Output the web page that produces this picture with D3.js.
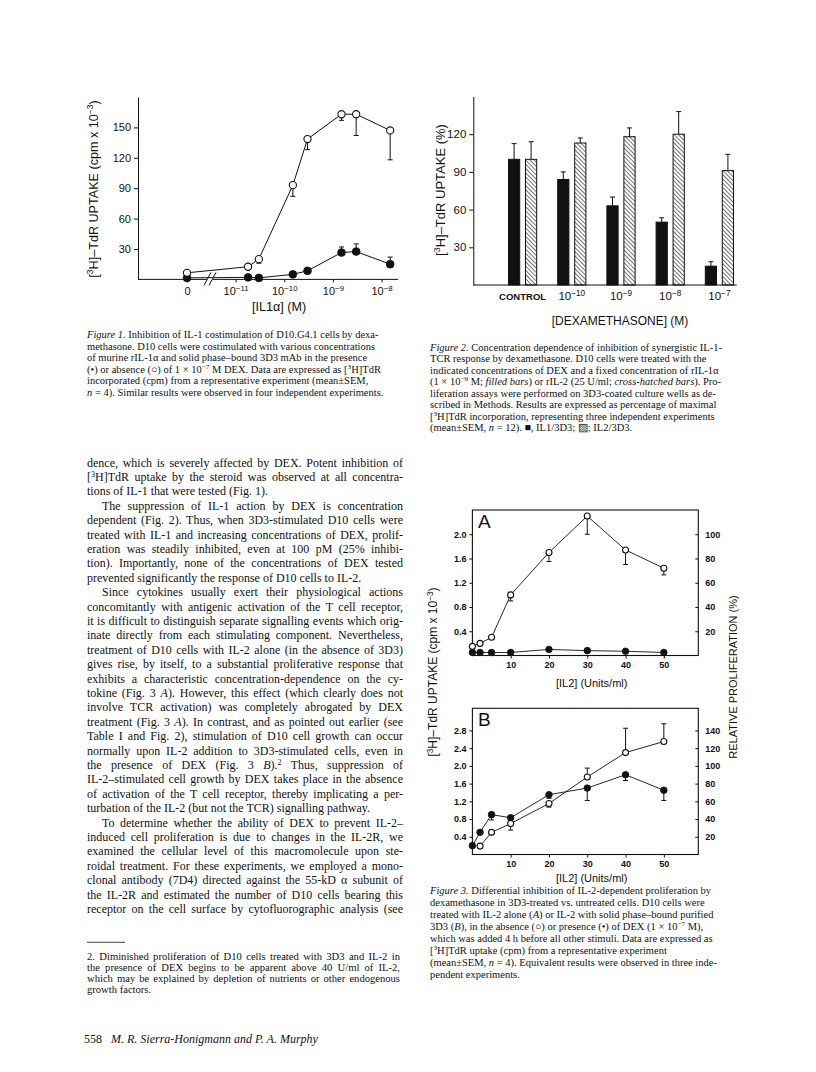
<!DOCTYPE html>
<html>
<head>
<meta charset="utf-8">
<script src="https://cdn.jsdelivr.net/npm/d3@7"></script>
<style>
  body { margin: 0; background: #fff; }
  svg { display: block; }
  .serif { font-family: "Liberation Serif", "Times New Roman", serif; fill: #111; }
  .sans { font-family: "Liberation Sans", Arial, sans-serif; fill: #111; }
</style>
</head>
<body>
<svg id="page" width="816" height="1072"></svg>
<script>
// ---------- Figure 1: [IL1a] dose response, with / without DEX
const fig1Conc = [0, 1.8e-11, 3e-11, 1.5e-10, 3e-10, 1.5e-9, 3e-9, 1.5e-8];
const fig1Open = [6.5, 12.5, 20, 93, 138.5, 163, 163, 147];
const fig1OpenLo = [null, null, 16, 82, 128, 157, 142, 118];
const fig1Filled = [1.5, 2, 1.5, 5, 8.5, 26.5, 27.5, 15];
const fig1FilledHi = [null, null, null, null, null, 32, 35, 22];
const fig1YTicks = [30, 60, 90, 120, 150];
const fig1XTicks = [1e-12, 1e-11, 1e-10, 1e-9, 1e-8];
const fig1XLabels = [['0', ''], ['10', '-11'], ['10', '-10'], ['10', '-9'], ['10', '-8']];

// ---------- Figure 2: bars, % of max uptake
const dexCats = ['CONTROL', '1e-10', '1e-9', '1e-8', '1e-7'];
const dexLabels = [['CONTROL', ''], ['10', '-10'], ['10', '-9'], ['10', '-8'], ['10', '-7']];
const il1Bars = [100, 84, 63, 50, 15];
const il1Err = [112.5, 90, 70, 53.5, 18.5];
const il2Bars = [100, 113, 118, 120, 91];
const il2Err = [114, 117, 125, 138, 104];
const fig2YTicks = [30, 60, 90, 120];

// ---------- Figure 3: IL-2 dose response, panels A and B
const il2Units = [0, 2, 5, 10, 20, 30, 40, 50];
const aOpen = [0.15, 0.2, 0.3, 1.0, 1.7, 2.3, 1.74, 1.44];
const aOpenLo = [null, null, null, 0.9, 1.55, 2.0, 1.5, 1.33];
const aFilled = [0.05, 0.05, 0.05, 0.05, 0.1, 0.08, 0.07, 0.05];
const bOpen = [null, 0.19, 0.5, 0.7, 1.15, 1.75, 2.3, 2.55];
const bOpenLo = [null, null, null, 0.55, 1.07, null, null, null];
const bOpenHi = [null, null, null, 0.82, null, 1.95, 2.85, 2.95];
const bFilled = [0.2, 0.5, 0.9, 0.83, 1.35, 1.5, 1.8, 1.45];
const bFilledLo = [null, null, 0.78, null, 1.27, 1.22, 1.67, 1.22];
const fig3XTicks = [10, 20, 30, 40, 50];
const aLeftTicks = [0.4, 0.8, 1.2, 1.6, 2.0];
const aRightTicks = [20, 40, 60, 80, 100];
const bLeftTicks = [0.4, 0.8, 1.2, 1.6, 2.0, 2.4, 2.8];
const bRightTicks = [20, 40, 60, 80, 100, 120, 140];

// ---------- page text
const fig1Caption = [
  "*Figure 1.* Inhibition of IL-1 costimulation of D10.G4.1 cells by dexa-",
  "methasone. D10 cells were costimulated with various concentrations",
  "of murine rIL-1α and solid phase–bound 3D3 mAb in the presence",
  "(•) or absence (○) of 1 × 10^−7^ M DEX. Data are expressed as [^3^H]TdR",
  "incorporated (cpm) from a representative experiment (mean±SEM,",
  "*n* = 4). Similar results were observed in four independent experiments."
];
const fig2Caption = [
  "*Figure 2.* Concentration dependence of inhibition of synergistic IL-1-",
  "TCR response by dexamethasone. D10 cells were treated with the",
  "indicated concentrations of DEX and a fixed concentration of rIL-1α",
  "(1 × 10^−9^ M; *filled bars*) or rIL-2 (25 U/ml; *cross-hatched bars*). Pro-",
  "liferation assays were performed on 3D3-coated culture wells as de-",
  "scribed in Methods. Results are expressed as percentage of maximal",
  "[^3^H]TdR incorporation, representing three independent experiments",
  "(mean±SEM, *n* = 12). ■, IL1/3D3; ▨; IL2/3D3."
];
const fig3Caption = [
  "*Figure 3.* Differential inhibition of IL-2-dependent proliferation by",
  "dexamethasone in 3D3-treated vs. untreated cells. D10 cells were",
  "treated with IL-2 alone (*A*) or IL-2 with solid phase–bound purified",
  "3D3 (*B*), in the absence (○) or presence (•) of DEX (1 × 10^−7^ M),",
  "which was added 4 h before all other stimuli. Data are expressed as",
  "[^3^H]TdR uptake (cpm) from a representative experiment",
  "(mean±SEM, *n* = 4). Equivalent results were observed in three inde-",
  "pendent experiments."
];
// ">" = indented first line, "|" = last line of a paragraph
const bodyLines = [
  "dence, which is severely affected by DEX. Potent inhibition of",
  "[^3^H]TdR uptake by the steroid was observed at all concentra-",
  "tions of IL-1 that were tested (Fig. 1).|",
  ">The suppression of IL-1 action by DEX is concentration",
  "dependent (Fig. 2). Thus, when 3D3-stimulated D10 cells were",
  "treated with IL-1 and increasing concentrations of DEX, prolif-",
  "eration was steadily inhibited, even at 100 pM (25% inhibi-",
  "tion). Importantly, none of the concentrations of DEX tested",
  "prevented significantly the response of D10 cells to IL-2.|",
  ">Since cytokines usually exert their physiological actions",
  "concomitantly with antigenic activation of the T cell receptor,",
  "it is difficult to distinguish separate signalling events which orig-",
  "inate directly from each stimulating component. Nevertheless,",
  "treatment of D10 cells with IL-2 alone (in the absence of 3D3)",
  "gives rise, by itself, to a substantial proliferative response that",
  "exhibits a characteristic concentration-dependence on the cy-",
  "tokine (Fig. 3 *A*). However, this effect (which clearly does not",
  "involve TCR activation) was completely abrogated by DEX",
  "treatment (Fig. 3 *A*). In contrast, and as pointed out earlier (see",
  "Table I and Fig. 2), stimulation of D10 cell growth can occur",
  "normally upon IL-2 addition to 3D3-stimulated cells, even in",
  "the presence of DEX (Fig. 3 *B*).^2^ Thus, suppression of",
  "IL-2–stimulated cell growth by DEX takes place in the absence",
  "of activation of the T cell receptor, thereby implicating a per-",
  "turbation of the IL-2 (but not the TCR) signalling pathway.|",
  ">To determine whether the ability of DEX to prevent IL-2–",
  "induced cell proliferation is due to changes in the IL-2R, we",
  "examined the cellular level of this macromolecule upon ste-",
  "roidal treatment. For these experiments, we employed a mono-",
  "clonal antibody (7D4) directed against the 55-kD α subunit of",
  "the IL-2R and estimated the number of D10 cells bearing this",
  "receptor on the cell surface by cytofluorographic analysis (see"
];
const footLines = [
  "2. Diminished proliferation of D10 cells treated with 3D3 and IL-2 in",
  "the presence of DEX begins to be apparent above 40 U/ml of IL-2,",
  "which may be explained by depletion of nutrients or other endogenous",
  "growth factors.|"
];

const svg = d3.select('#page');
svg.append('rect').attr('width', 816).attr('height', 1072).attr('fill', '#fff');

const defs = svg.append('defs');
defs.append('pattern')
  .attr('id', 'hatch')
  .attr('patternUnits', 'userSpaceOnUse')
  .attr('width', 3).attr('height', 3)
  .attr('patternTransform', 'rotate(-45)')
  .append('line')
  .attr('x1', 0).attr('y1', 0).attr('x2', 0).attr('y2', 3)
  .attr('stroke', '#111').attr('stroke-width', 1.2);

// text with *italic* and ^superscript^ runs
function rich(parent, str, x, y, size, cls) {
  const t = parent.append('text')
    .attr('x', x).attr('y', y)
    .attr('class', cls || 'serif')
    .style('font-size', size + 'px');
  str.split(/(\*[^*]*\*|\^[^^]*\^)/).filter(s => s.length).forEach(p => {
    if (p[0] === '*') t.append('tspan').style('font-style', 'italic').text(p.slice(1, -1));
    else if (p[0] === '^') t.append('tspan').attr('baseline-shift', 'super').style('font-size', (size * 0.68) + 'px').text(p.slice(1, -1));
    else t.append('tspan').text(p);
  });
  return t;
}

function justify(t, str, width) {
  const natural = t.node().getComputedTextLength();
  const spaces = (str.match(/ /g) || []).length;
  if (natural > width) t.attr('textLength', width).attr('lengthAdjust', 'spacingAndGlyphs');
  else if (spaces) t.style('word-spacing', ((width - natural) / spaces) + 'px');
}

function block(lines, x0, width, y0, step, size, doJustify) {
  const g = svg.append('g');
  lines.forEach((raw, i) => {
    let s = raw, indent = 0, last = false;
    if (s[0] === '>') { s = s.slice(1); indent = 15; }
    if (s[s.length - 1] === '|') { s = s.slice(0, -1); last = true; }
    const t = rich(g, s, x0 + indent, y0 + i * step, size);
    const plain = s.replace(/[*^]/g, '');
    if (doJustify && !last) justify(t, plain, width - indent);
    else if (t.node().getComputedTextLength() > width - indent) t.attr('textLength', width - indent).attr('lengthAdjust', 'spacingAndGlyphs');
  });
}

// tick label "10" with exponent
function expLabel(sel, base, exp, size, weight) {
  sel.text(null);
  sel.append('tspan').style('font-size', size + 'px').style('font-weight', weight || 'normal').text(base);
  if (exp) sel.append('tspan').attr('baseline-shift', 'super').style('font-size', (size * 0.72) + 'px').text(exp.replace('-', '−'));
}

function styleAxis(g, size, weight) {
  g.selectAll('path, line').attr('stroke', '#111').attr('stroke-width', 1);
  g.selectAll('text').attr('class', 'sans').attr('fill', '#111')
    .style('font-family', '"Liberation Sans", Arial, sans-serif')
    .style('font-size', size + 'px').style('font-weight', weight || 'normal');
}

function errBars(g, data, x, y, key) {
  g.selectAll(null).data(data.filter(d => d[key] != null)).join('path')
    .attr('d', d => `M${x(d)},${y(d.v)}V${y(d[key])}M${x(d) - 2.5},${y(d[key])}H${x(d) + 2.5}`)
    .attr('stroke', '#111').attr('stroke-width', 1).attr('fill', 'none');
}

function markers(g, data, x, y, open, r) {
  g.selectAll(null).data(data.filter(d => d.v != null)).join('circle')
    .attr('cx', d => x(d)).attr('cy', d => y(d.v)).attr('r', r)
    .attr('fill', open ? '#fff' : '#111')
    .attr('stroke', '#111').attr('stroke-width', open ? 1.1 : 0.8);
}

// ===================== Figure 1 =====================
(function () {
  const g = svg.append('g');
  const x = d3.scaleLog().domain([1e-12, 1e-8]).range([187, 381.6]);
  const y = d3.scaleLinear().domain([0, 180]).range([279.4, 97]);
  const px = d => x(d.c === 0 ? 1e-12 : d.c);

  g.append('g').attr('transform', 'translate(138,0)')
    .call(d3.axisLeft(y).tickValues(fig1YTicks).tickSize(4).tickSizeOuter(0).tickPadding(3))
    .call(a => styleAxis(a, 11));

  g.append('line').attr('x1', 138).attr('x2', 398).attr('y1', y(0)).attr('y2', y(0))
    .attr('stroke', '#111').attr('stroke-width', 1);
  const xa = g.append('g').attr('transform', `translate(0,${y(0)})`)
    .call(d3.axisBottom(x).tickValues(fig1XTicks).tickSize(3).tickPadding(5));
  xa.select('.domain').remove();
  styleAxis(xa, 11);
  xa.selectAll('.tick text').each(function (d, i) {
    expLabel(d3.select(this), fig1XLabels[i][0], fig1XLabels[i][1], 11);
  });

  // axis break
  const bx = 210, by = y(0);
  g.append('rect').attr('x', bx - 3).attr('y', by - 1.5).attr('width', 6).attr('height', 3).attr('fill', '#fff');
  [-2.5, 2.5].forEach(o => g.append('line')
    .attr('x1', bx + o - 3.5).attr('y1', by + 6).attr('x2', bx + o + 3.5).attr('y2', by - 7)
    .attr('stroke', '#111').attr('stroke-width', 1));

  const open = fig1Conc.map((c, i) => ({ c, v: fig1Open[i], lo: fig1OpenLo[i] }));
  const filled = fig1Conc.map((c, i) => ({ c, v: fig1Filled[i], hi: fig1FilledHi[i] }));
  const line = d3.line().x(px).y(d => y(d.v));
  [open, filled].forEach(s => g.append('path').attr('d', line(s))
    .attr('fill', 'none').attr('stroke', '#111').attr('stroke-width', 1));
  errBars(g, open, px, y, 'lo');
  errBars(g, filled, px, y, 'hi');
  markers(g, filled, px, y, false, 3.9);
  markers(g, open, px, y, true, 3.6);

  rich(g, "[^3^H]–TdR UPTAKE (cpm x 10^−3^)", 0, 0, 12.6, 'sans')
    .attr('text-anchor', 'middle').attr('transform', 'translate(97.5,189) rotate(-90)');
  rich(g, "[IL1α] (M)", 279, 310.5, 12.6, 'sans').attr('text-anchor', 'middle');
})();

// ===================== Figure 2 =====================
(function () {
  const g = svg.append('g');
  const x = d3.scaleBand().domain(dexCats).range([498, 744]);
  const sub = d3.scaleBand().domain(['il1', 'il2']).range([10.5, 38.7]).paddingInner(0.34);
  const y = d3.scaleLinear().domain([0, 150]).range([285, 96.5]);

  g.append('g').attr('transform', 'translate(473.3,0)')
    .call(d3.axisLeft(y).tickValues(fig2YTicks).tickSize(4).tickSizeOuter(0).tickPadding(3))
    .call(a => styleAxis(a, 11.5));
  g.append('line').attr('x1', 473.3).attr('x2', 736.7).attr('y1', y(0)).attr('y2', y(0))
    .attr('stroke', '#111').attr('stroke-width', 1);

  const bars = dexCats.flatMap((c, i) => [
    { c, k: 'il1', v: il1Bars[i], e: il1Err[i] },
    { c, k: 'il2', v: il2Bars[i], e: il2Err[i] }
  ]);
  const bx = d => x(d.c) + sub(d.k);
  g.selectAll(null).data(bars).join('path')
    .attr('d', d => {
      const cx = bx(d) + sub.bandwidth() / 2;
      return `M${cx},${y(d.v)}V${y(d.e)}M${cx - 2.5},${y(d.e)}H${cx + 2.5}`;
    })
    .attr('stroke', '#111').attr('stroke-width', 1);
  g.selectAll(null).data(bars).join('rect')
    .attr('x', bx).attr('width', sub.bandwidth())
    .attr('y', d => y(d.v)).attr('height', d => y(0) - y(d.v))
    .attr('fill', d => d.k === 'il1' ? '#111' : 'url(#hatch)')
    .attr('stroke', '#111').attr('stroke-width', 1);

  dexCats.forEach((c, i) => {
    const t = g.append('text').attr('class', 'sans')
      .attr('x', x(c) + x.bandwidth() / 2).attr('y', 300).attr('text-anchor', 'middle');
    if (i === 0) t.style('font-size', '9.5px').style('font-weight', 'bold').text(dexLabels[i][0]);
    else expLabel(t, dexLabels[i][0], dexLabels[i][1], 11.5);
  });

  rich(g, "[^3^H]–TdR UPTAKE (%)", 0, 0, 13, 'sans')
    .attr('text-anchor', 'middle').attr('transform', 'translate(445,190) rotate(-90)');
  rich(g, "[DEXAMETHASONE] (M)", 620, 325, 12, 'sans').attr('text-anchor', 'middle');
})();

// ===================== Figure 3 =====================
function panel(cfg) {
  const g = svg.append('g');
  const x = d3.scaleLinear().domain([0, 59]).range([472.4, 698.3]);
  const y = d3.scaleLinear().domain([0, cfg.yMax]).range([cfg.bottom, cfg.top]);
  const r = d3.scaleLinear().domain([0, cfg.yMax * 50]).range([cfg.bottom, cfg.top]);
  const px = d => x(d.u);

  g.append('rect').attr('x', x(0)).attr('y', cfg.top)
    .attr('width', x(59) - x(0)).attr('height', cfg.bottom - cfg.top)
    .attr('fill', 'none').attr('stroke', '#111').attr('stroke-width', 1.1);

  const la = g.append('g').attr('transform', `translate(${x(0)},0)`)
    .call(d3.axisLeft(y).tickValues(cfg.leftTicks).tickFormat(d3.format('.1f')).tickSize(3).tickSizeOuter(0).tickPadding(3));
  const ra = g.append('g').attr('transform', `translate(${x(59)},0)`)
    .call(d3.axisRight(r).tickValues(cfg.rightTicks).tickSize(-3).tickSizeOuter(0).tickPadding(7));
  const ba = g.append('g').attr('transform', `translate(0,${cfg.bottom})`)
    .call(d3.axisBottom(x).tickValues(fig3XTicks).tickSize(3).tickSizeOuter(0).tickPadding(3));
  [la, ra, ba].forEach(a => { a.select('.domain').remove(); styleAxis(a, 9, 'bold'); });

  const open = il2Units.map((u, i) => ({ u, v: cfg.open[i], lo: cfg.openLo[i], hi: cfg.openHi[i] }));
  const filled = il2Units.map((u, i) => ({ u, v: cfg.filled[i], lo: cfg.filledLo[i] }));
  const line = d3.line().defined(d => d.v != null).x(px).y(d => y(d.v));
  [open, filled].forEach(s => g.append('path').attr('d', line(s))
    .attr('fill', 'none').attr('stroke', '#111').attr('stroke-width', 0.9));
  errBars(g, open, px, y, 'lo');
  errBars(g, open, px, y, 'hi');
  errBars(g, filled, px, y, 'lo');
  markers(g, filled, px, y, false, 3.3);
  markers(g, open, px, y, true, 3);

  g.append('text').attr('class', 'sans').attr('x', 478).attr('y', cfg.top + cfg.letterDy)
    .style('font-size', '19px').text(cfg.letter);
  rich(g, "[IL2] (Units/ml)", 591.7, cfg.bottom + cfg.titleDy, 11, 'sans').attr('text-anchor', 'middle');
}

panel({
  letter: 'A', letterDy: 17.5, titleDy: 31, top: 510, bottom: 655.5, yMax: 2.4,
  leftTicks: aLeftTicks, rightTicks: aRightTicks,
  open: aOpen, openLo: aOpenLo, openHi: il2Units.map(() => null),
  filled: aFilled, filledLo: il2Units.map(() => null)
});
panel({
  letter: 'B', letterDy: 18, titleDy: 27.5, top: 708.3, bottom: 854.5, yMax: 3.3,
  leftTicks: bLeftTicks, rightTicks: bRightTicks,
  open: bOpen, openLo: bOpenLo, openHi: bOpenHi,
  filled: bFilled, filledLo: bFilledLo
});

rich(svg, "[^3^H]–TdR UPTAKE (cpm x 10^−3^)", 0, 0, 12, 'sans')
  .attr('text-anchor', 'middle').attr('transform', 'translate(437,672) rotate(-90)');
svg.append('text').attr('class', 'sans').attr('text-anchor', 'middle')
  .attr('transform', 'translate(737,677) rotate(-90)')
  .style('font-size', '11px').text('RELATIVE PROLIFERATION (%)');

// ===================== text blocks =====================
block(fig1Caption, 87, 316, 338, 11.5, 10.5, false);
block(fig2Caption, 430, 338, 350.5, 11.5, 10.5, false);
block(fig3Caption, 430, 338, 894, 12, 10.5, false);
block(bodyLines, 87, 316, 466.5, 14.4, 12, true);

svg.append('line').attr('x1', 87).attr('x2', 125).attr('y1', 942.3).attr('y2', 942.3)
  .attr('stroke', '#111').attr('stroke-width', 0.8);
block(footLines, 87, 313, 959.5, 11, 10.6, true);

svg.append('text').attr('class', 'serif').attr('x', 84).attr('y', 1043)
  .style('font-size', '12px').text('558');
svg.append('text').attr('class', 'serif').attr('x', 111).attr('y', 1043)
  .style('font-size', '12px').style('font-style', 'italic')
  .text('M. R. Sierra-Honigmann and P. A. Murphy');
</script>
</body>
</html>
